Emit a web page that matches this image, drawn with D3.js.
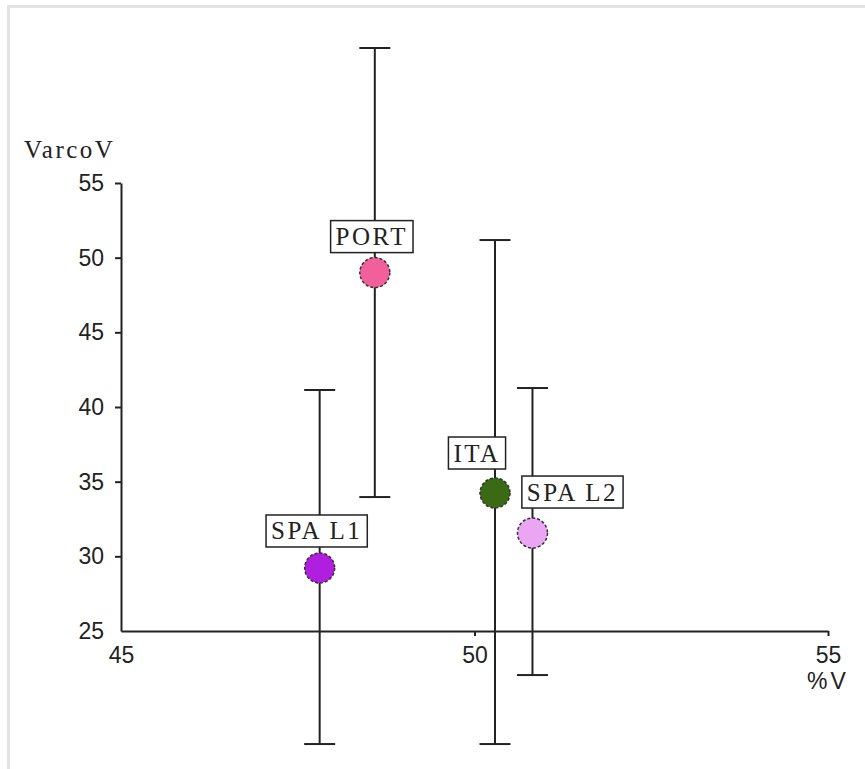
<!DOCTYPE html>
<html>
<head>
<meta charset="utf-8">
<script src="https://cdn.jsdelivr.net/npm/d3@7"></script>
<style>
  html, body { margin: 0; padding: 0; background: #fff; }
  svg { display: block; }
</style>
</head>
<body>
<script>
// Country groups, with %V on the x axis and VarcoV on the y axis
const categories = ["SPA L1", "PORT", "ITA", "SPA L2"];
const pctV       = [47.81, 48.59, 50.29, 50.82];
const varcoV     = [29.22, 49.0, 34.24, 31.56];
const errLow     = [17.43, 33.97, 17.43, 22.05];
const errHigh    = [41.14, 64.04, 51.18, 41.27];
const colors     = ["#b01ee0", "#f2609c", "#3b6a14", "#eaa6f2"];

const xTicks = [45, 50, 55];
const yTicks = [25, 30, 35, 40, 45, 50, 55];

const W = 865, H = 769;
const svg = d3.select("body").append("svg").attr("width", W).attr("height", H);

// frame edges
svg.append("line").attr("x1", 7).attr("x2", W).attr("y1", 6.5).attr("y2", 6.5)
  .attr("stroke", "#e2e2e2").attr("stroke-width", 3);
svg.append("line").attr("x1", 8.5).attr("x2", 8.5).attr("y1", 5).attr("y2", H)
  .attr("stroke", "#e2e2e2").attr("stroke-width", 3);

const x = d3.scaleLinear().domain([45, 55]).range([121, 828]);
const y = d3.scaleLinear().domain([25, 55]).range([631, 183]);

const tickFont = "'Liberation Sans', Arial, sans-serif";
const labelFont = "'Liberation Serif', 'Times New Roman', serif";

// y axis
const gy = svg.append("g").attr("transform", `translate(${x(45)},0)`)
  .call(d3.axisLeft(y).tickValues(yTicks).tickSize(6).tickSizeOuter(0).tickPadding(11));
gy.selectAll(".tick").filter(d => d === 25).select("line").remove();

// x axis
const gx = svg.append("g").attr("transform", `translate(0,${y(25)})`)
  .call(d3.axisBottom(x).tickValues(xTicks).tickSize(5).tickSizeOuter(0).tickPadding(11));
gx.selectAll(".tick").filter(d => d === 45).select("line").remove();

[gx, gy].forEach(g => {
  g.select(".domain").attr("stroke", "#222").attr("stroke-width", 2);
  g.selectAll(".tick line").attr("stroke", "#222").attr("stroke-width", 2);
  g.selectAll(".tick text").attr("fill", "#222")
    .style("font-family", tickFont).style("font-size", "23px");
});

// axis titles
svg.append("text").attr("x", 24).attr("y", 158)
  .style("font-family", labelFont).style("font-size", "25px")
  .style("letter-spacing", "2.5px").attr("fill", "#222").text("VarcoV");
svg.append("text").attr("x", x(55)).attr("y", 689).attr("text-anchor", "middle")
  .style("font-family", tickFont).style("font-size", "23px")
  .style("letter-spacing", "3px").attr("fill", "#222").text("%V");

const data = categories.map((c, i) => ({
  name: c, x: pctV[i], y: varcoV[i], lo: errLow[i], hi: errHigh[i], color: colors[i]
}));

// error bars
const capHalf = 15.5;
const eb = svg.append("g").attr("stroke", "#222").attr("stroke-width", 2);
data.forEach(d => {
  const cx = x(d.x);
  eb.append("line").attr("x1", cx).attr("x2", cx).attr("y1", y(d.hi)).attr("y2", y(d.lo));
  eb.append("line").attr("x1", cx - capHalf).attr("x2", cx + capHalf).attr("y1", y(d.hi)).attr("y2", y(d.hi));
  eb.append("line").attr("x1", cx - capHalf).attr("x2", cx + capHalf).attr("y1", y(d.lo)).attr("y2", y(d.lo));
});

// markers
svg.append("g").selectAll("circle").data(data).join("circle")
  .attr("cx", d => x(d.x)).attr("cy", d => y(d.y)).attr("r", 15)
  .attr("fill", d => d.color)
  .attr("stroke", "#333").attr("stroke-width", 1.5).attr("stroke-dasharray", "3,2");

// point labels in boxes, placed relative to each marker
const labelShift = {
  "SPA L1": [-3, -37],
  "PORT":   [-3, -36],
  "ITA":    [-18, -40],
  "SPA L2": [40, -41]
};
const lg = svg.append("g");
data.forEach(d => {
  const [dx, dy] = labelShift[d.name];
  const cx = x(d.x) + dx, cy = y(d.y) + dy;
  const g = lg.append("g");
  const rect = g.append("rect").attr("fill", "#fff").attr("stroke", "#222").attr("stroke-width", 1.5);
  const t = g.append("text").attr("x", cx).attr("y", cy + 8.5).attr("text-anchor", "middle")
    .style("font-family", labelFont).style("font-size", "25px")
    .style("letter-spacing", "2.5px").attr("fill", "#222").text(d.name);
  const bb = t.node().getBBox();
  const w = bb.width + 10, h = 32;
  rect.attr("x", cx - w / 2).attr("y", cy - h / 2).attr("width", w).attr("height", h);
});
</script>
</body>
</html>
